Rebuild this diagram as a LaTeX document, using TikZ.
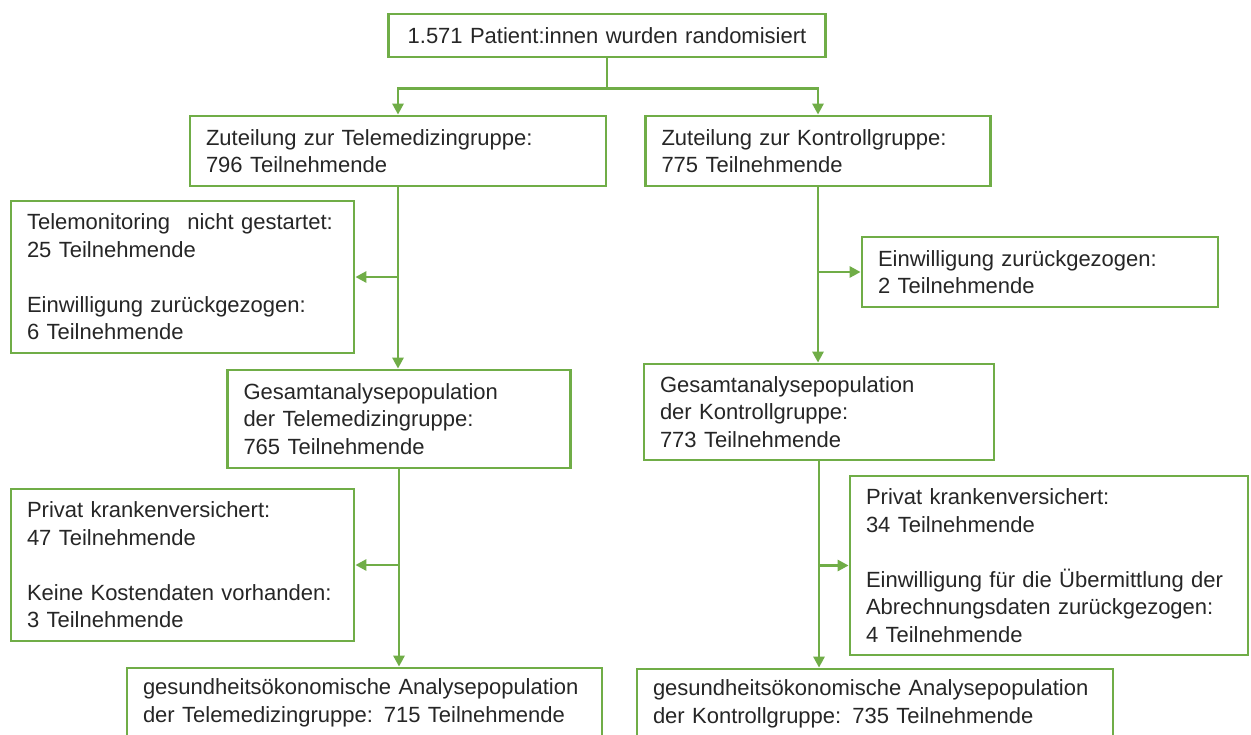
\documentclass[tikz,border=0pt]{standalone}
\usepackage{fontspec}
\setmainfont{Liberation Sans}
\usetikzlibrary{arrows.meta}
\definecolor{flowgreen}{RGB}{112,173,71}
\definecolor{txt}{RGB}{38,38,38}
\tikzset{
  box/.style={draw=flowgreen, line width=1.4pt, fill=white, align=left, inner xsep=8pt, inner ysep=0pt,
    font=\fontsize{11}{13.75}\selectfont, text=txt},
  conn/.style={draw=flowgreen, line width=1.4pt},
  arr/.style={conn, -{Triangle[length=5.5pt,width=5.5pt]}}
}
\begin{document}
\begin{tikzpicture}[x=0.5pt,y=-0.5pt]
\clip (0,0) rectangle (1251,734);
\fill[white] (0,0) rectangle (1251,734);
% nodes
\node[box, align=center, text width=202.5pt, minimum height=21.5pt] (top) at (607,35.5)
  {1.571 Patient:innen wurden randomisiert};
\node[box, text width=192pt, minimum height=35pt] (tele) at (398,151)
  {Zuteilung zur Telemedizingruppe:\\796 Teilnehmende};
\node[box, text width=156.5pt, minimum height=35pt] (ctrl) at (818,151)
  {Zuteilung zur Kontrollgruppe:\\775 Teilnehmende};
\node[box, text width=155.5pt, minimum height=76pt] (exA) at (182.5,277)
  {\mbox{Telemonitoring\hspace{0.45em} nicht gestartet:}\\25 Teilnehmende\\[\baselineskip]Einwilligung zurückgezogen:\\6 Teilnehmende};
\node[box, text width=162pt, minimum height=35pt] (exB) at (1040,272)
  {Einwilligung zurückgezogen:\\2 Teilnehmende};
\node[box, text width=155.5pt, minimum height=49pt] (gesL) at (399,419)
  {Gesamtanalysepopulation\\der Telemedizingruppe:\\765 Teilnehmende};
\node[box, text width=159pt, minimum height=48pt] (gesR) at (819,412)
  {Gesamtanalysepopulation\\der Kontrollgruppe:\\773 Teilnehmende};
\node[box, text width=155.5pt, minimum height=76pt] (exC) at (182.5,565)
  {Privat krankenversichert:\\47 Teilnehmende\\[\baselineskip]Keine Kostendaten vorhanden:\\3 Teilnehmende};
\node[box, text width=183pt, minimum height=89.5pt] (exD) at (1049,565.5)
  {Privat krankenversichert:\\34 Teilnehmende\\[\baselineskip]Einwilligung für die Übermittlung der\\Abrechnungsdaten zurückgezogen:\\4 Teilnehmende};
\node[box, text width=221.5pt, minimum height=35pt] (finL) at (364.5,703)
  {gesundheitsökonomische Analysepopulation\\der Telemedizingruppe: 715 Teilnehmende};
\node[box, text width=222pt, minimum height=35pt] (finR) at (875,704)
  {gesundheitsökonomische Analysepopulation\\der Kontrollgruppe: 735 Teilnehmende};
% connectors
\draw[conn] (top.south) -- ++(0,30) coordinate (split);
\draw[arr] (split) -| (tele.north);
\draw[arr] (split) -| (ctrl.north);
\draw[arr] (tele.south) -- (tele.south |- gesL.north);
\draw[arr] (tele.south |- exA.east) -- (exA.east);
\draw[arr] (ctrl.south) -- (ctrl.south |- gesR.north);
\draw[arr] (ctrl.south |- exB.west) -- (exB.west);
\draw[arr] (gesL.south) -- (gesL.south |- finL.north);
\draw[arr] (gesL.south |- exC.east) -- (exC.east);
\draw[arr] (gesR.south) -- (gesR.south |- finR.north);
\draw[arr] (gesR.south |- exD.west) -- (exD.west);
\end{tikzpicture}
\end{document}
